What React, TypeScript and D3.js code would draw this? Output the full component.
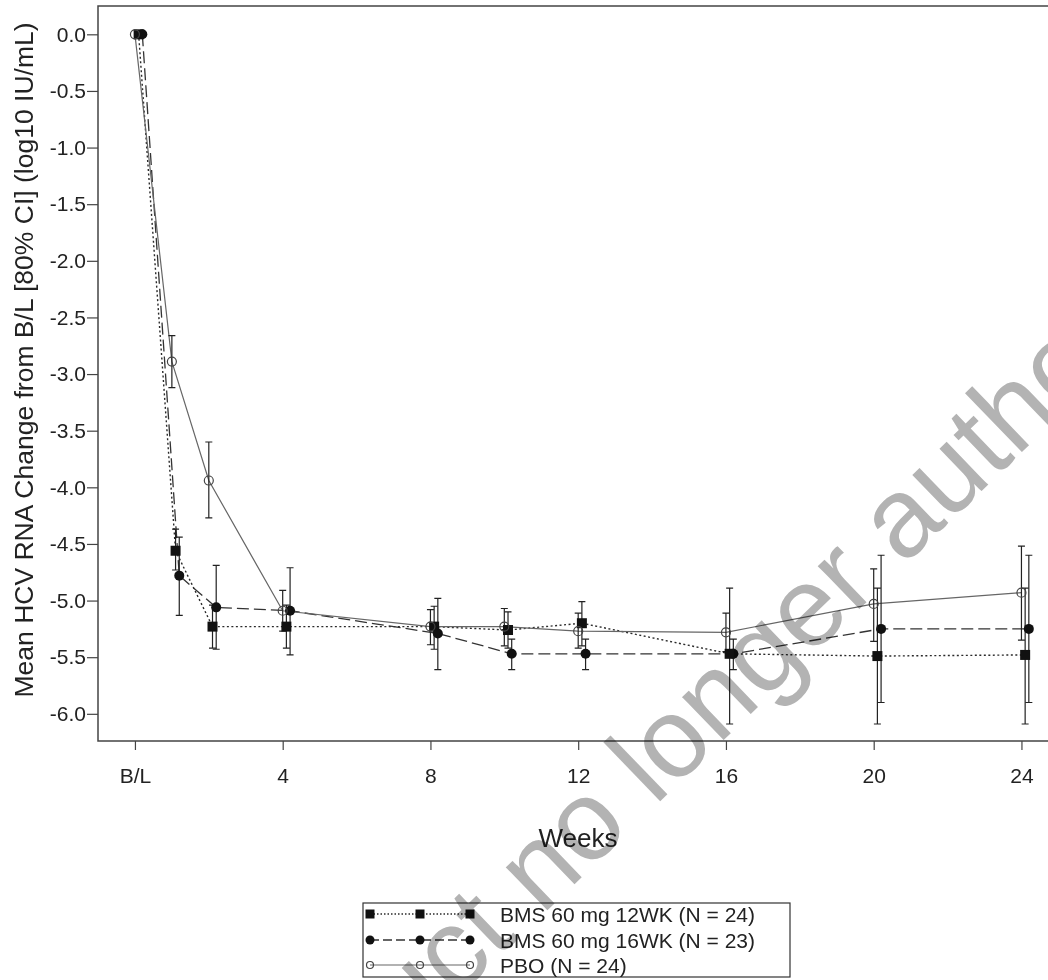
import React, { useEffect, useRef } from 'react';
import * as d3 from 'd3';

// weeks on the x axis (0 = baseline)
const weeks = [0, 1, 2, 4, 8, 10, 12, 16, 20, 24];
const xTickValues = [0, 4, 8, 12, 16, 20, 24];
const xTickLabels = ['B/L', '4', '8', '12', '16', '20', '24'];
const yTickValues = [0, -0.5, -1, -1.5, -2, -2.5, -3, -3.5, -4, -4.5, -5, -5.5, -6];

// BMS 60 mg 12WK
const wk12Mean = [0, -4.56, -5.23, -5.23, -5.23, -5.26, -5.2, -5.47, -5.49, -5.48];
const wk12Hi = [0, -4.37, -5.04, -5.04, -5.05, -5.1, -5.01, -4.89, -4.89, -4.89];
const wk12Lo = [0, -4.73, -5.42, -5.42, -5.43, -5.42, -5.4, -6.09, -6.09, -6.09];

// BMS 60 mg 16WK
const wk16Mean = [0, -4.78, -5.06, -5.09, -5.29, -5.47, -5.47, -5.47, -5.25, -5.25];
const wk16Hi = [0, -4.44, -4.69, -4.71, -4.98, -5.34, -5.34, -5.34, -4.6, -4.6];
const wk16Lo = [0, -5.13, -5.43, -5.48, -5.61, -5.61, -5.61, -5.61, -5.9, -5.9];

// placebo
const pboMean = [0, -2.89, -3.94, -5.09, -5.23, -5.23, -5.27, -5.28, -5.03, -4.93];
const pboHi = [0, -2.66, -3.6, -4.91, -5.08, -5.07, -5.11, -5.11, -4.72, -4.52];
const pboLo = [0, -3.12, -4.27, -5.27, -5.39, -5.4, -5.42, -5.45, -5.36, -5.35];

const seriesNames = ['BMS 60 mg 12WK (N = 24)', 'BMS 60 mg 16WK (N = 23)', 'PBO (N = 24)'];

const FONT = '"Liberation Sans", Arial, Helvetica, sans-serif';

export default function App() {
  const ref = useRef<SVGSVGElement>(null);

  useEffect(() => {
    const svg = d3.select(ref.current);
    svg.selectAll('*').remove();

    const x = d3.scaleLinear().domain([-1, 24.8]).range([98, 1051]);
    const y = d3.scaleLinear().domain([0.25, -6.24]).range([6, 741]);

    const series = [
      { mean: wk12Mean, hi: wk12Hi, lo: wk12Lo, off: 0.1, shape: 'square', stroke: '#2a2a2a', width: 1.4, dash: '2,2.5' },
      { mean: wk16Mean, hi: wk16Hi, lo: wk16Lo, off: 0.2, shape: 'dot', stroke: '#333', width: 1.3, dash: '12,5' },
      { mean: pboMean, hi: pboHi, lo: pboLo, off: 0, shape: 'open', stroke: '#666', width: 1.2, dash: null },
    ];

    // y axis
    const yAxis = svg.append('g')
      .attr('transform', 'translate(98,0)')
      .call(d3.axisLeft(y).tickValues(yTickValues).tickFormat(d => (+d).toFixed(1)).tickSize(11).tickPadding(1).tickSizeOuter(0));
    yAxis.select('.domain').remove();
    yAxis.selectAll('line').attr('stroke', '#444').attr('stroke-width', 1.2);
    yAxis.selectAll('text').attr('font-family', FONT).attr('font-size', 21).attr('fill', '#222');

    // x axis
    const xAxis = svg.append('g')
      .attr('transform', 'translate(0,741)')
      .call(d3.axisBottom(x).tickValues(xTickValues).tickFormat((d, i) => xTickLabels[i]).tickSize(9).tickPadding(18).tickSizeOuter(0));
    xAxis.select('.domain').remove();
    xAxis.selectAll('line').attr('stroke', '#444').attr('stroke-width', 1.2);
    xAxis.selectAll('text').attr('font-family', FONT).attr('font-size', 21).attr('fill', '#222');

    // frame
    svg.append('path')
      .attr('d', 'M1052,6H98V741H1052')
      .attr('fill', 'none')
      .attr('stroke', '#444')
      .attr('stroke-width', 1.5);

    // axis titles
    svg.append('text')
      .attr('transform', 'translate(33,360) rotate(-90)')
      .attr('text-anchor', 'middle')
      .attr('font-family', FONT)
      .attr('font-size', 26.5)
      .attr('fill', '#222')
      .text('Mean HCV RNA Change from B/L [80% CI] (log10 IU/mL)');

    svg.append('text')
      .attr('x', 578)
      .attr('y', 847)
      .attr('text-anchor', 'middle')
      .attr('font-family', FONT)
      .attr('font-size', 26)
      .attr('fill', '#222')
      .text('Weeks');

    // lines
    series.forEach(s => {
      const line = d3.line<number>()
        .x((d, i) => x(weeks[i] + s.off))
        .y(d => y(d));
      svg.append('path')
        .attr('d', line(s.mean))
        .attr('fill', 'none')
        .attr('stroke', s.stroke)
        .attr('stroke-width', s.width)
        .attr('stroke-dasharray', s.dash);
    });

    // error bars
    series.forEach(s => {
      const g = svg.append('g').attr('stroke', '#222').attr('stroke-width', 1.2).attr('fill', 'none');
      weeks.forEach((w, i) => {
        if (s.hi[i] === s.lo[i]) return;
        const cx = x(w + s.off);
        const y1 = y(s.hi[i]);
        const y2 = y(s.lo[i]);
        g.append('path').attr('d', `M${cx},${y1}V${y2}M${cx - 3.5},${y1}H${cx + 3.5}M${cx - 3.5},${y2}H${cx + 3.5}`);
      });
    });

    const drawMarker = (g, shape, cx, cy, size) => {
      if (shape === 'square') {
        g.append('rect').attr('x', cx - size / 2).attr('y', cy - size / 2)
          .attr('width', size).attr('height', size).attr('fill', '#111');
      } else if (shape === 'dot') {
        g.append('circle').attr('cx', cx).attr('cy', cy).attr('r', size / 2).attr('fill', '#111');
      } else {
        g.append('circle').attr('cx', cx).attr('cy', cy).attr('r', size / 2 - 0.5)
          .attr('fill', 'none').attr('stroke', '#444').attr('stroke-width', 1.2);
      }
    };

    // markers
    series.forEach(s => {
      const g = svg.append('g');
      weeks.forEach((w, i) => drawMarker(g, s.shape, x(w + s.off), y(s.mean[i]), 10));
    });

    // legend
    const legend = svg.append('g');
    legend.append('rect')
      .attr('x', 363).attr('y', 903).attr('width', 427).attr('height', 74)
      .attr('fill', 'white').attr('stroke', '#333').attr('stroke-width', 1.2);
    const rows = [914, 940, 965];
    series.forEach((s, i) => {
      const ry = rows[i];
      legend.append('line')
        .attr('x1', 370).attr('x2', 470).attr('y1', ry).attr('y2', ry)
        .attr('stroke', s.stroke).attr('stroke-width', s.width)
        .attr('stroke-dasharray', s.dash ? (s.shape === 'dot' ? '9,4' : '1.5,2') : null);
      [370, 420, 470].forEach(mx => drawMarker(legend, s.shape, mx, ry, s.shape === 'open' ? 8 : 9));
      legend.append('text')
        .attr('x', 500).attr('y', ry + 8)
        .attr('font-family', FONT).attr('font-size', 21).attr('fill', '#222')
        .text(seriesNames[i]);
    });

    // watermark
    svg.append('text')
      .attr('transform', 'translate(761,704) rotate(-44)')
      .attr('text-anchor', 'middle')
      .attr('font-family', FONT)
      .attr('font-size', 113)
      .attr('fill', '#b3b3b3')
      .style('mix-blend-mode', 'multiply')
      .text('Product no longer authorised');
  }, []);

  return (
    <svg ref={ref} width={1048} height={980} style={{ position: 'absolute', left: 0, top: 0, background: 'white' }} />
  );
}
